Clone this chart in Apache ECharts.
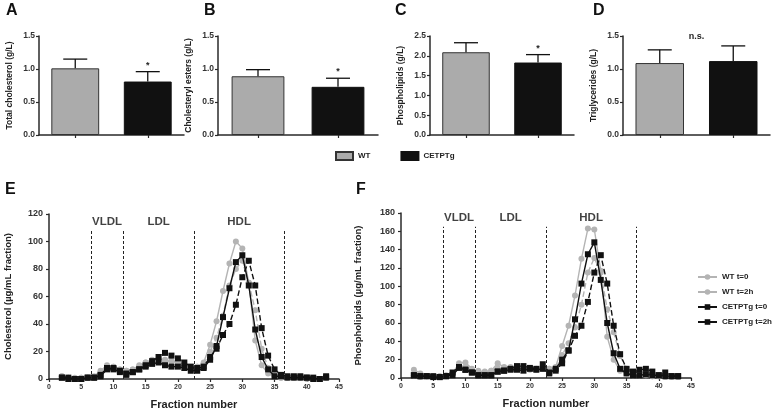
<!DOCTYPE html>
<html><head><meta charset="utf-8">
<script src="https://cdn.jsdelivr.net/npm/echarts@6/dist/echarts.min.js"></script>
<style>html,body{margin:0;padding:0;background:#fff}#c{width:777px;height:411px}</style>
</head><body><div id="c"></div>
<script>
// ---- data ----
var groups = ['WT', 'CETPTg'];
var panelNames = ['A', 'B', 'C', 'D'];
var panelTitles = ['Total cholesterol (g/L)', 'Cholesteryl esters (g/L)', 'Phospholipids (g/L)', 'Triglycerides (g/L)'];
var panelMax = [1.5, 1.5, 2.5, 1.5];
var wtMean = [1.01, 0.89, 2.09, 1.09];
var wtUpper = [1.15, 0.99, 2.33, 1.29];
var cetMean = [0.81, 0.73, 1.83, 1.12];
var cetUpper = [0.96, 0.86, 2.03, 1.35];
var significance = ['*', '*', '*', 'n.s.'];

var fractions = [2,3,4,5,6,7,8,9,10,11,12,13,14,15,16,17,18,19,20,21,22,23,24,25,26,27,28,29,30,31,32,33,34,35,36,37,38,39,40,41,42,43];
var lineNames = ['WT t=0', 'WT t=2h', 'CETPTg t=0', 'CETPTg t=2h'];
var cholWT0 = [2,1,1,1,1,2,6,10,9,7,6,7,10,12,14,15,14,13,12,10,8,9,12,25,42,64,84,100,95,70,28,10,4,2,1,1,1,1,1,0,0,1];
var cholWT2 = [2,1,0,1,1,1,5,9,9,7,6,7,9,12,13,14,13,13,12,10,8,9,11,20,30,46,68,80,86,70,50,22,8,3,1,1,1,1,0,0,0,1];
var cholCE0 = [1,0,0,0,1,1,3,8,7,5,3,5,7,9,11,12,10,9,9,8,6,6,8,14,24,45,66,85,90,68,36,16,7,2,2,1,1,1,1,0,0,1];
var cholCE2 = [1,1,0,0,1,1,2,7,8,6,4,5,7,10,13,16,19,17,15,12,9,8,9,16,22,32,40,54,74,86,68,37,17,7,3,2,2,2,1,1,0,2];
var phosWT0 = [9,5,2,2,2,2,5,16,17,10,8,6,8,16,12,12,11,10,10,9,10,10,12,35,57,90,130,163,162,117,45,20,8,5,3,3,4,2,2,1,2,1];
var phosWT2 = [3,1,2,1,2,3,4,14,12,8,7,7,8,11,10,11,11,10,9,10,11,10,10,25,38,55,80,115,131,115,75,50,24,10,5,4,3,2,2,1,1,1];
var phosCE0 = [3,2,2,1,1,2,3,11,9,6,3,3,3,7,8,9,9,8,10,9,10,5,10,20,30,64,103,135,148,107,60,27,10,5,3,3,4,3,3,2,2,2];
var phosCE2 = [3,2,2,2,1,2,6,12,9,6,3,3,3,7,8,10,13,13,11,10,15,6,8,16,30,46,57,83,115,134,103,57,26,10,7,9,10,7,3,6,2,2];
var regionNames = ['VLDL', 'LDL', 'HDL'];
var regionBounds = [6.5, 11.5, 22.5, 36.5];

// ---- styles ----
var FONT = 'Liberation Sans, Arial, sans-serif';
var GRAY = '#ababab', BLACK = '#111111', AX = '#2a2a2a';
var chart = echarts.init(document.getElementById('c'), null, {renderer: 'canvas'});

var barGrids = [
  {left: 39, top: 36, width: 145, height: 99},
  {left: 218, top: 36, width: 160, height: 99},
  {left: 430, top: 36, width: 144, height: 99},
  {left: 623, top: 36, width: 147, height: 99}
];
var lineGrids = [
  {left: 49, top: 214, width: 290, height: 165},
  {left: 401, top: 213, width: 290, height: 165}
];
var grids = barGrids.concat(lineGrids);
var xAxes = [], yAxes = [], series = [];

function axisBase() {
  return {
    axisLine: {show: true, lineStyle: {color: AX, width: 1.5}},
    axisTick: {show: true, length: 3, lineStyle: {color: AX, width: 1.2}},
    splitLine: {show: false}
  };
}

for (var i = 0; i < 4; i++) {
  var xa = axisBase();
  xa.type = 'category'; xa.gridIndex = i; xa.data = groups;
  xa.axisTick.alignWithLabel = true; xa.axisLabel = {show: false};
  xAxes.push(xa);
  var ya = axisBase();
  ya.type = 'value'; ya.gridIndex = i; ya.min = 0; ya.max = panelMax[i]; ya.interval = 0.5;
  ya.axisLabel = {fontFamily: FONT, fontWeight: 'bold', fontSize: 8.5, color: '#333', margin: 4,
    formatter: function (v) { return v.toFixed(1); }};
  ya.name = panelTitles[i]; ya.nameLocation = 'middle'; ya.nameGap = 25;
  ya.nameTextStyle = {fontFamily: FONT, fontWeight: 'bold', fontSize: 8.5, color: '#222'};
  yAxes.push(ya);

  series.push({type: 'bar', name: 'WT', xAxisIndex: i, yAxisIndex: i, barWidth: '66%', barGap: '-100%',
    data: [wtMean[i], '-'], itemStyle: {color: GRAY, borderColor: '#333', borderWidth: 1}, silent: true});
  series.push({type: 'bar', name: 'CETPTg', xAxisIndex: i, yAxisIndex: i, barWidth: '66%', barGap: '-100%',
    data: ['-', cetMean[i]], itemStyle: {color: BLACK, borderColor: '#111', borderWidth: 1}, silent: true});
  (function (idx) {
    series.push({type: 'custom', xAxisIndex: idx, yAxisIndex: idx, silent: true, z: 5,
      data: [[0, wtMean[idx], wtUpper[idx], ''], [1, cetMean[idx], cetUpper[idx], idx < 3 ? significance[idx] : '']],
      renderItem: function (params, api) {
        var b = api.coord([api.value(0), api.value(1)]);
        var t = api.coord([api.value(0), api.value(2)]);
        var ch = [
          {type: 'line', shape: {x1: b[0], y1: b[1], x2: t[0], y2: t[1]}, style: {stroke: '#111', lineWidth: 1.3}},
          {type: 'line', shape: {x1: t[0] - 12, y1: t[1], x2: t[0] + 12, y2: t[1]}, style: {stroke: '#111', lineWidth: 1.3}}
        ];
        var s = api.value(3);
        if (s) ch.push({type: 'text', style: {text: s, x: t[0], y: t[1] - 2, align: 'center', verticalAlign: 'bottom',
          font: 'bold 9px ' + FONT, fill: '#222'}});
        return {type: 'group', children: ch};
      }});
  })(i);
}
// n.s. label for panel D
series.push({type: 'custom', xAxisIndex: 3, yAxisIndex: 3, silent: true,
  data: [[0.5, panelMax[3], significance[3]]],
  renderItem: function (params, api) {
    var p1 = api.coord([0, api.value(1)]), p2 = api.coord([1, api.value(1)]);
    return {type: 'text', style: {text: api.value(2), x: (p1[0] + p2[0]) / 2, y: p1[1] + 1, align: 'center', verticalAlign: 'middle',
      font: 'bold 9px ' + FONT, fill: '#222'}};
  }});

var lineSets = [
  {data: [cholWT0, cholWT2, cholCE0, cholCE2], yMax: 120, title: 'Cholesterol (\u00b5g/mL fraction)', regionTop: 108, labelY: 114, gap: 36},
  {data: [phosWT0, phosWT2, phosCE0, phosCE2], yMax: 180, title: 'Phospholipids (\u00b5g/mL fraction)', regionTop: 165, labelY: 175, gap: 38}
];
var lineStyles = [
  {color: '#b4b4b4', type: 'solid', symbol: 'circle'},
  {color: '#b4b4b4', type: 'dashed', symbol: 'circle'},
  {color: BLACK, type: 'solid', symbol: 'rect'},
  {color: BLACK, type: 'dashed', symbol: 'rect'}
];
var regionCenters = [];
for (var r = 0; r < regionNames.length; r++) regionCenters.push((regionBounds[r] + regionBounds[r + 1]) / 2);

for (var g = 0; g < 2; g++) {
  var gi = 4 + g, set = lineSets[g];
  var xa2 = axisBase();
  xa2.type = 'value'; xa2.gridIndex = gi; xa2.min = 0; xa2.max = 45; xa2.interval = 5;
  xa2.axisLabel = {fontFamily: FONT, fontWeight: 'bold', fontSize: 7, color: '#333', margin: 5};
  xa2.name = 'Fraction number'; xa2.nameLocation = 'middle'; xa2.nameGap = 20;
  xa2.nameTextStyle = {fontFamily: FONT, fontWeight: 'bold', fontSize: 11, color: '#222'};
  xAxes.push(xa2);
  var ya2 = axisBase();
  ya2.type = 'value'; ya2.gridIndex = gi; ya2.min = 0; ya2.max = set.yMax; ya2.interval = 20;
  ya2.axisLabel = {fontFamily: FONT, fontWeight: 'bold', fontSize: 9, color: '#333', margin: 6};
  ya2.name = set.title; ya2.nameLocation = 'middle'; ya2.nameGap = set.gap;
  ya2.nameTextStyle = {fontFamily: FONT, fontWeight: 'bold', fontSize: 9.5, color: '#222'};
  yAxes.push(ya2);

  for (var k = 0; k < 4; k++) {
    var pts = [];
    for (var j = 0; j < fractions.length; j++) pts.push([fractions[j], set.data[k][j]]);
    var st = lineStyles[k];
    var s = {type: 'line', name: lineNames[k], xAxisIndex: gi, yAxisIndex: gi, data: pts,
      symbol: st.symbol, symbolSize: 6, showSymbol: true, silent: true,
      lineStyle: {color: st.color, width: 1.4, type: st.type},
      itemStyle: {color: st.color, borderWidth: 0}, z: k < 2 ? 3 : 4};
    if (k === 0) {
      var ml = [];
      for (var b = 0; b < regionBounds.length; b++) ml.push([{coord: [regionBounds[b], 0]}, {coord: [regionBounds[b], set.regionTop]}]);
      s.markLine = {silent: true, symbol: ['none', 'none'], label: {show: false},
        lineStyle: {color: '#222', type: [3, 2], width: 1}, data: ml};
    }
    series.push(s);
  }
  var rl = [];
  for (var r2 = 0; r2 < regionNames.length; r2++) rl.push({name: regionNames[r2], value: [regionCenters[r2], set.labelY]});
  series.push({type: 'scatter', xAxisIndex: gi, yAxisIndex: gi, symbolSize: 0, silent: true, data: rl,
    label: {show: true, position: 'inside', formatter: '{b}', fontFamily: FONT, fontWeight: 'bold', fontSize: 11.5, color: '#111'}});
}

var letters = [['A', 6, 3], ['B', 204, 3], ['C', 395, 3], ['D', 593, 3], ['E', 5, 182], ['F', 356, 182]];
var graphics = letters.map(function (l) {
  return {type: 'text', left: l[1], top: l[2], style: {text: l[0], font: 'bold 16px ' + FONT, fill: '#111'}};
});

chart.setOption({
  animation: false,
  backgroundColor: '#fff',
  grid: grids,
  xAxis: xAxes,
  yAxis: yAxes,
  series: series,
  graphic: graphics,
  legend: [
    {data: ['WT', 'CETPTg'], left: 330, top: 146, itemWidth: 17, itemHeight: 8, itemGap: 30, icon: 'rect', selectedMode: false,
      textStyle: {fontFamily: FONT, fontWeight: 'bold', fontSize: 8, color: '#222'}},
    {data: lineNames, orient: 'vertical', left: 692, top: 268, itemWidth: 19, itemHeight: 7, itemGap: 7, selectedMode: false,
      textStyle: {fontFamily: FONT, fontWeight: 'bold', fontSize: 8, color: '#222'}}
  ]
});
</script></body></html>
